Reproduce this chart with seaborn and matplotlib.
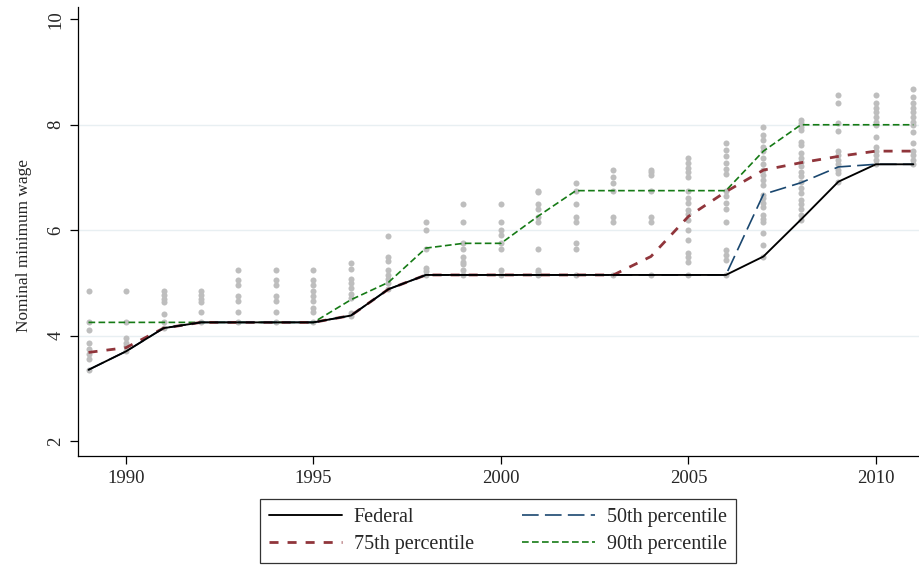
import numpy as np
import pandas as pd
import matplotlib
matplotlib.use("Agg")
import matplotlib.pyplot as plt
import seaborn as sns

years = list(range(1989, 2012))

federal = [3.35, 3.70, 4.14, 4.25, 4.25, 4.25, 4.25, 4.38, 4.88, 5.15, 5.15, 5.15,
           5.15, 5.15, 5.15, 5.15, 5.15, 5.15, 5.50, 6.20, 6.92, 7.25, 7.25]
p50 = [3.35, 3.70, 4.14, 4.25, 4.25, 4.25, 4.25, 4.38, 4.88, 5.15, 5.15, 5.15,
       5.15, 5.15, 5.15, 5.15, 5.15, 5.15, 6.68, 6.90, 7.20, 7.25, 7.25]
p75 = [3.68, 3.77, 4.14, 4.25, 4.25, 4.25, 4.25, 4.38, 4.88, 5.15, 5.15, 5.15,
       5.15, 5.15, 5.15, 5.50, 6.26, 6.73, 7.14, 7.28, 7.40, 7.50, 7.50]
p90 = [4.25, 4.25, 4.25, 4.25, 4.25, 4.25, 4.25, 4.68, 5.01, 5.66, 5.75, 5.75,
       6.27, 6.75, 6.75, 6.75, 6.75, 6.75, 7.50, 8.00, 8.00, 8.00, 8.00]

state_wages = [
    [3.35, 3.55, 3.65, 3.75, 3.85, 4.10, 4.25, 4.85],                       # 1989
    [3.70, 3.80, 3.85, 3.95, 4.25, 4.85],                                   # 1990
    [4.14, 4.25, 4.40, 4.63, 4.70, 4.77, 4.85],                             # 1991
    [4.25, 4.45, 4.63, 4.70, 4.77, 4.85],                                   # 1992
    [4.25, 4.45, 4.65, 4.75, 4.95, 5.05, 5.25],                             # 1993
    [4.25, 4.45, 4.65, 4.75, 4.95, 5.05, 5.25],                             # 1994
    [4.25, 4.45, 4.52, 4.65, 4.75, 4.85, 4.95, 5.05, 5.25],                 # 1995
    [4.38, 4.42, 4.71, 4.79, 4.90, 4.99, 5.07, 5.26, 5.38],                 # 1996
    [4.88, 5.00, 5.07, 5.15, 5.25, 5.42, 5.50, 5.89],                       # 1997
    [5.15, 5.22, 5.28, 5.65, 6.00, 6.15],                                   # 1998
    [5.15, 5.25, 5.35, 5.40, 5.50, 5.65, 5.75, 6.15, 6.50],                 # 1999
    [5.15, 5.25, 5.65, 5.75, 5.90, 6.00, 6.15, 6.50],                       # 2000
    [5.15, 5.20, 5.25, 5.65, 6.15, 6.25, 6.40, 6.50, 6.72, 6.75],           # 2001
    [5.15, 5.65, 5.75, 6.15, 6.25, 6.50, 6.75, 6.90],                       # 2002
    [5.15, 6.15, 6.25, 6.75, 6.90, 7.00, 7.15],                             # 2003
    [5.15, 6.15, 6.25, 6.75, 7.05, 7.10, 7.15],                             # 2004
    [5.15, 5.40, 5.50, 5.57, 5.81, 6.00, 6.20, 6.30, 6.38, 6.51, 6.61,
     6.75, 7.00, 7.10, 7.18, 7.28, 7.36],                                   # 2005
    [5.15, 5.43, 5.53, 5.62, 6.16, 6.41, 6.52, 6.65, 6.75, 7.06, 7.16,
     7.27, 7.40, 7.52, 7.65],                                               # 2006
    [5.50, 5.72, 5.94, 6.16, 6.22, 6.29, 6.44, 6.52, 6.61, 6.67, 6.85,
     6.95, 7.05, 7.14, 7.25, 7.37, 7.50, 7.58, 7.71, 7.81, 7.95],           # 2007
    [6.20, 6.28, 6.40, 6.49, 6.58, 6.71, 6.80, 6.92, 7.02, 7.10, 7.21,
     7.30, 7.37, 7.46, 7.62, 7.68, 7.90, 7.96, 8.03, 8.10],                 # 2008
    [6.92, 7.08, 7.14, 7.25, 7.33, 7.43, 7.51, 7.89, 8.03, 8.41, 8.57],     # 2009
    [7.25, 7.33, 7.43, 7.51, 7.58, 7.76, 8.00, 8.06, 8.14, 8.24, 8.31,
     8.41, 8.57],                                                           # 2010
    [7.25, 7.33, 7.43, 7.51, 7.65, 7.87, 8.00, 8.06, 8.14, 8.25, 8.31,
     8.41, 8.53, 8.67],                                                     # 2011
]

yticks = [2, 4, 6, 8, 10]
xticks = [1990, 1995, 2000, 2005, 2010]

sns.set_theme(style="white")
plt.rcParams['font.family'] = ['Liberation Serif', 'DejaVu Serif']
plt.rcParams['lines.scale_dashes'] = False

dots = pd.DataFrame({
    "year": [y for y, vals in zip(years, state_wages) for _ in vals],
    "wage": [v for vals in state_wages for v in vals],
})

fig = plt.figure(figsize=(9.19, 5.65), dpi=100)
ax = fig.add_axes([0.0849, 0.193, 0.9151, 0.7946])

sns.scatterplot(data=dots, x="year", y="wage", ax=ax, color="#bebebe",
                s=19, linewidth=0, zorder=2, legend=False)

def add_line(vals, color, lw, dashes, label, z):
    sns.lineplot(x=years, y=vals, ax=ax, color=color, lw=lw, label=label,
                 zorder=z, legend=False)
    ln = ax.lines[-1]
    if dashes is not None:
        ln.set_dashes(dashes)
    return ln

l90 = add_line(p90, "#157a15", 1.2, (4.8, 2.4), "90th percentile", 3)
l75 = add_line(p75, "#90353b", 2.0, (6.5, 6.5), "75th percentile", 4)
l50 = add_line(p50, "#1a476f", 1.2, (12, 4.5), "50th percentile", 5)
lfed = add_line(federal, "black", 1.35, None, "Federal", 6)

ax.set_xlim(1988.72, 2011.15)
ax.set_ylim(1.715, 10.235)
ax.set_xticks(xticks)
ax.set_yticks(yticks)
ax.set_xticklabels([str(x) for x in xticks], fontsize=13.5)
ax.set_yticklabels([str(y) for y in yticks], fontsize=13.5, rotation=90, va="center")
ax.tick_params(axis="both", direction="out", length=6, width=0.9, color="black",
               left=True, bottom=True, pad=4)
ax.set_xlabel("")
ax.set_ylabel("Nominal minimum wage", fontsize=12.4)
ax.yaxis.set_label_coords(-0.055, 0.468)

ax.yaxis.grid(True, color="#e8eff2", lw=1.0)
ax.xaxis.grid(False)
gl = ax.get_ygridlines()
gl[0].set_visible(False)
gl[-1].set_visible(False)
ax.set_axisbelow(True)

for side in ["top", "right"]:
    ax.spines[side].set_visible(False)
for side in ["left", "bottom"]:
    ax.spines[side].set_color("black")
    ax.spines[side].set_linewidth(0.9)

leg = fig.legend(handles=[lfed, l75, l50, l90],
                 labels=["Federal", "75th percentile", "50th percentile", "90th percentile"],
                 ncol=2, loc="center", bbox_to_anchor=(0.542, 0.0602),
                 frameon=True, fancybox=False, fontsize=14.5, handlelength=3.6,
                 handletextpad=0.6, columnspacing=2.4, labelspacing=0.4,
                 borderpad=0.45)
leg.get_frame().set_edgecolor("black")
leg.get_frame().set_linewidth(0.9)

fig.savefig("out.png", dpi=100)
